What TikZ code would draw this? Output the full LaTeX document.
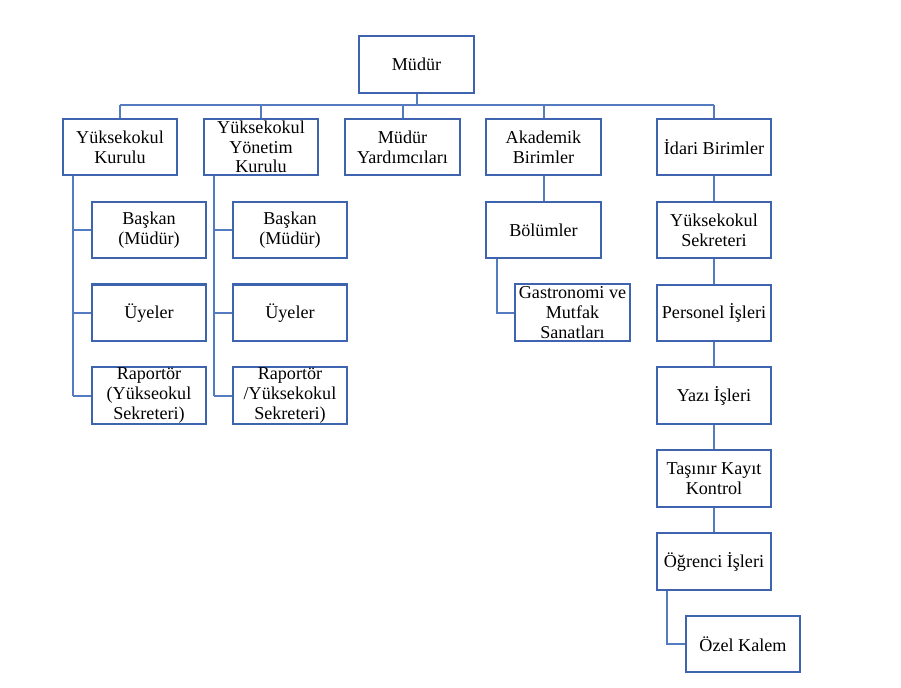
\documentclass[tikz,border=0pt]{standalone}
\usepackage{fontspec}
\setmainfont{Liberation Serif}
\definecolor{boxblue}{RGB}{62,100,176}
\definecolor{lineblue}{RGB}{84,122,192}
\begin{document}
\begin{tikzpicture}[x=0.75pt,y=-0.75pt,
  box/.style={draw=boxblue,line width=1.6pt,fill=white,minimum width=86pt,minimum height=42.5pt,
    inner sep=0pt,align=center,font=\fontsize{13.6}{14.8}\selectfont},
  conn/.style={draw=lineblue,line width=1.5pt}]
\useasboundingbox (0,0) rectangle (901,687);
\node[box] (mudur) at (416.5,64.5) {Müdür};
\node[box] (yk) at (120,147) {Yüksekokul\\Kurulu};
\node[box] (yyk) at (261,147) {Yüksekokul\\Yönetim\\Kurulu};
\node[box] (my) at (402.5,147) {Müdür\\Yardımcıları};
\node[box] (ab) at (543.5,147) {Akademik\\Birimler};
\node[box] (ib) at (714,147) {İdari Birimler};
% column A
\node[box] (ykb) at (149,230) {Başkan\\(Müdür)};
\node[box] (yku) at (149,312.8) {Üyeler};
\node[box] (ykr) at (149,395.5) {Raportör\\(Yükseokul\\Sekreteri)};
% column B
\node[box] (yykb) at (290,230) {Başkan\\(Müdür)};
\node[box] (yyku) at (290,312.8) {Üyeler};
\node[box] (yykr) at (290,395.5) {Raportör\\/Yüksekokul\\Sekreteri)};
% akademik
\node[box] (bol) at (543.5,230) {Bölümler};
\node[box] (gas) at (572.5,312.5) {Gastronomi ve\\Mutfak\\Sanatları};
% idari
\node[box] (ys) at (714,230) {Yüksekokul\\Sekreteri};
\node[box] (pi) at (714,313) {Personel İşleri};
\node[box] (yi) at (714,395.5) {Yazı İşleri};
\node[box] (tk) at (714,478.5) {Taşınır Kayıt\\Kontrol};
\node[box] (oi) at (714,561.5) {Öğrenci İşleri};
\node[box] (ok) at (743,644) {Özel Kalem};
% top bus
\coordinate (bus) at (0,105);
\draw[conn] (mudur.south) -- (mudur.south |- bus);
\draw[conn] (yk.north |- bus) -- (ib.north |- bus);
\foreach \n in {yk,yyk,my,ab,ib} \draw[conn] (\n.north) -- (\n.north |- bus);
% column A spine
\coordinate (sa) at (72.7,0);
\draw[conn] (yk.south -| sa) -- (ykr.west -| sa);
\foreach \n in {ykb,yku,ykr} \draw[conn] (\n.west -| sa) -- (\n.west);
% column B spine
\coordinate (sb) at (213.7,0);
\draw[conn] (yyk.south -| sb) -- (yykr.west -| sb);
\foreach \n in {yykb,yyku,yykr} \draw[conn] (\n.west -| sb) -- (\n.west);
% akademik
\draw[conn] (ab.south) -- (bol.north);
\coordinate (sc) at (496.7,0);
\draw[conn] (bol.south -| sc) |- (gas.west);
% idari chain
\draw[conn] (ib.south) -- (ys.north);
\draw[conn] (ys.south) -- (pi.north);
\draw[conn] (pi.south) -- (yi.north);
\draw[conn] (yi.south) -- (tk.north);
\draw[conn] (tk.south) -- (oi.north);
\coordinate (sd) at (666.7,0);
\draw[conn] (oi.south -| sd) |- (ok.west);
\end{tikzpicture}
\end{document}
